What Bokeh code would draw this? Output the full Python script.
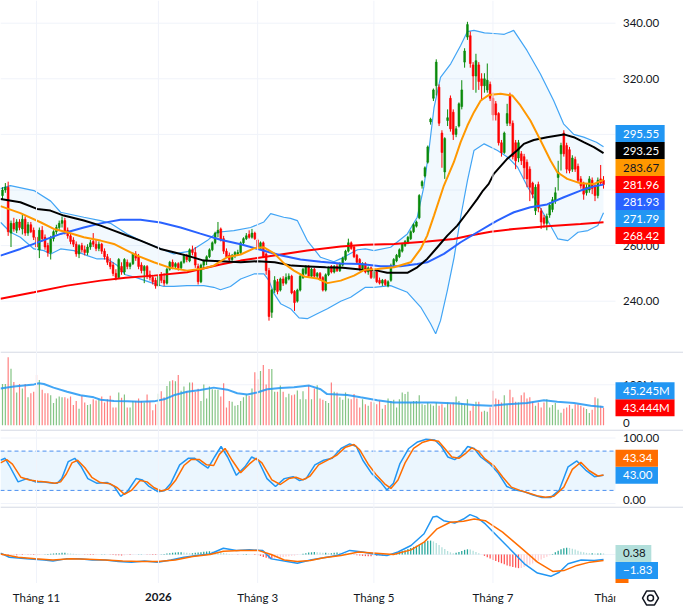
from bokeh.plotting import figure
from bokeh.layouts import column
from bokeh.models import Range1d, Span
from bokeh.embed import file_html
from bokeh.resources import INLINE
from bokeh.core.properties import value

# ---------------- data ----------------
opens = [
278,280,281,264.5,268,265.5,268.5,266,269.5,264.5,
267.5,265.5,263,258.5,265.5,263,260,257.5,262.5,265,
266.5,268,269,265.5,263.5,262,260.5,257,260,258.5,
257.5,259.5,261.5,260.5,259,260.5,258,256,254,253,
250,248.5,252.5,250.5,254,252.5,253.5,257,256,253,
251,252.5,249.5,248.5,247.5,245.5,249.5,247.5,246.5,251.5,
254,252.5,253.5,252,254,256.5,254.5,258.5,257.5,252.5,
247,253,254.5,256,258.5,261,264.5,266,262.5,258,
256.5,255,256.5,257,257.5,261,262.5,264,263,264.5,
262,259,261,257,251,236,244,247,244,248,
246.5,248,249,243.5,240,244,248.5,250,252.5,249,
251.5,249,250,248.5,244,249.5,252.5,250.5,252.5,251,
253,255,258,261,259.5,256.5,255,251.8,253.5,250.5,
252,248.5,250.5,247.5,246.5,247.5,245.5,247.5,253,254.5,
256,258,260,261,262.5,265,267,270,281.5,285,
290,304.5,313,317.5,317,300.5,286.5,305,313,308,
300,303,310,326,335,335.5,325,321,325,320,
317.5,316,
318,313,311,307.5,297,293.5,304,314,304,297,
291.5,293,292,290,287.5,282.5,272.5,282,272.5,270,
268,271,273,276,284.5,293,300.5,296,294.5,287.5,
291,288.5,284,282.5,279,280,283.5,281.5,278,284,
283.5]
highs = [
281,282.5,283,269,270,269.5,269.5,271,270.5,268.5,
268.5,266.5,264,266.5,267,264,261,263.5,265.5,267.5,
269,270.5,270,266.5,264.5,263,261.5,260.5,261,260,
260.5,262,264.5,262,261.5,261,259,257,255.5,254,
251.5,255.5,254,255.5,255,254,257.5,258,257,254,
253,253,251,249.5,248.5,249.5,250.5,250,252,254.5,
255,254,254,254.5,257,257,259,260,259.5,253.5,
253.5,255,256.5,259,261.5,265,268.5,266.5,263.5,259,
257.5,257,258,258.5,261.5,263,264.5,265.5,266,265,
262.5,261.5,261.5,257.5,252,244.5,249,248,248.5,249,
250,250,249.5,244,244.5,249.5,252,253,253,252,
252,250.5,250.5,249,250,252.5,253,253,253.5,254,
256,258.5,262.5,261.5,260,257,255.5,254,254,252.5,
252.5,251,251,248.5,248,248,247.5,253.5,255.5,257,
259,261,262,263.5,265.5,268,269,278.5,283.5,288.5,
296,306,316.5,327,318,301.5,299,309,314,309,
303,311.5,319.5,331,340.5,337,326,329,326,322,
322,325.5,
319,315,312,308,298,301,311,315,305,298,
298,294,293,291,288.5,283,282,283,273.5,271,
271.5,275.5,277.5,281,290.5,297,301.5,297,295.5,292.5,
292,289.5,285,283,282.5,285,284.5,282.5,284.5,289,
285]
lows = [
276.5,279,263.5,259.5,265,264.5,265.5,264,263.5,263.5,
264.5,262,258.5,255.5,261.5,258.5,256,255,261.5,264,
265.5,266.5,264,262.5,260.5,259.5,256,255.5,257.5,256.5,
256.5,258.5,259.5,258,258,257,255,253,251.5,249,
247.5,248,249.5,249.5,251.5,251.5,253,254.5,251.5,250,
246.5,248,247.5,246,244.5,245,246.5,245.5,246,251,
251.5,251.5,251,251.5,253.5,254,254,256.5,252,246,
246.5,251.5,253,255.5,258,260.5,263,261.5,257,255.5,
254,254.5,255.5,256.5,257,260,262,262.5,262.5,262,
258.5,258.5,255.5,249.5,233,234,243,242.5,243.5,245.5,
246,247.5,242.5,236.5,239.5,243.5,248,249.5,248.5,248.5,
248.5,248,247.5,243.5,243.5,249,250,250,250.5,250.5,
252.5,254.5,257.5,258.5,255.5,253.5,251,251,250,249.5,
248,248,246.5,246,245.5,245.5,245,247,252.5,254,
255.5,257.5,259.5,260.5,262,264.5,266.5,269.5,280.5,284.5,
289.5,303.5,312,314,303,288,284,303,301,298,
299,302.5,309,324,334,324,316,315,316,312,
315,315,
312,305,305,296,292,293,303,303,291,287.5,
290,289,284,281,276,277,271,272,266,266.5,
265.5,270,272,275,279.8,287,292,286,286,286.5,
286.5,282.5,280.5,276.5,278,279,278.5,276,277,281.5,
280.5]
closes = [
280,281,265,268,266,268.5,266.5,269.5,264.5,267.5,
265,263,259.5,265.5,262.5,259.5,257.5,262.5,265,266.5,
268,269,265,263.5,261.5,260.5,257,260,258.5,257.5,
259.5,261,260.5,259,260.5,258,256,254,252.5,250,
248.5,255,250.5,255,252.5,253.5,257,255.5,252.5,251,
252.5,249,248.5,247,245.5,249,247.5,246.5,251.5,254,
252.5,253.5,252,254,256.5,255,258.5,257.5,253,247,
253,254.5,256,258.5,261,264.5,265.5,262,258,256,
255,256.5,257.5,257.5,261,262.5,263.5,263,264.5,262.5,
259,261,256,251,234.5,244,247.5,243.5,248,246.5,
248.5,249,243,239.5,244,249,251.5,252.5,249,251.5,
249,250,248,244,249.5,252,250.5,252.5,251,253.5,
255.5,258,261,259,256,254,251.8,253.5,250.5,252,
248.5,250.5,247,246.5,247.5,246,247,252.8,255,256.5,
258.5,260.5,261.5,263,265,267.5,268.5,278,283,288,
295.5,305.5,316,326,304,293.5,298.5,306,302,300,
302,311,316,330,339.5,325.5,321,326.5,319,317.5,
320,319.5,
313,307,307,297,293.5,300.5,307.5,304,292,290.5,
297,290.5,288,284,281,278.5,281,273.5,268.5,268,
270.5,274.5,276.5,279,286.5,296,293,287.5,287,291.5,
287.5,283.5,281.5,278.5,281,284,280.5,278,283.5,282.5,
281.96]
volumes = [
102,102,168,140,107,81,102,91,102,69,
79,83,125,112,88,79,79,74,55,66,
71,69,69,66,71,50,60,41,73,56,
50,52,64,61,63,71,56,64,73,44,
44,81,68,76,44,44,60,60,66,60,
56,76,58,37,52,78,84,69,97,109,
111,109,124,85,96,84,106,106,83,90,
60,101,66,96,89,88,88,71,104,44,
60,58,48,50,60,69,76,73,91,131,
114,134,149,101,139,139,83,83,98,83,
69,78,74,76,86,64,84,64,98,
64,91,99,66,63,60,55,106,83,81,
69,63,81,66,64,77,66,44,64,52,
48,58,56,52,60,41,50,66,60,63,
44,64,81,77,83,56,60,60,74,52,
50,56,52,48,56,48,52,44,
56,52,56,71,60,55,52,64,36,48,
58,58,33,36,33,44,85,66,63,
56,74,52,88,69,58,56,74,81,66,
69,58,48,56,44,56,64,44,50,
55,38,31,41,44,50,41,52,52,48,
44,40,30,38,69,66,48,43.444]

# moving averages / bands, sampled along the bar axis
ma20_at = [-0.7,6.3,13.4,18.1,22.8,28.7,34.6,39.3,43.4,47.5,53.4,59.2,65.1,71,74.5,79.2,84,88.7,92.2,95.8,99.3,102.8,106.4,111,114.6,119.3,124,127.5,132.2,138.1,144,147.5,149.8,152.2,155.7,159.2,161.6,164,166.3,168.7,171.6,175.7,179.8,182.7,186.2,189.8,193.3,195.7,199.2,203.9,208.6,212]
ma20 = [274.2,271.7,268.4,266,264.8,263,261.8,260.6,258.5,256.4,254,252,251,251.8,252.8,255.8,256.8,259,259.4,257.2,253.6,251,248.9,248.2,246.5,247.4,249.2,251.2,251.6,252.2,254,258.8,263.6,270.8,281.6,290,297.2,303.2,308,312.2,314.2,314.6,314,310.4,305,297.8,290.6,286.4,284,282.4,282.2,283.67]
ma50_at = [-0.7,6.3,12.2,16.9,21.6,28.7,34.6,39.3,43.4,48.7,55.7,60.4,65.1,71,76.9,84,90,96,102,108,114,120,126.3,132.2,135.7,142.8,146.3,149.8,153.4,156.9,160.4,164,167.5,169.5,171.5,173.3,178,181.5,183.9,187.4,192.1,198,201.5,205,208.6,212]
ma50 = [276.8,275.6,273.2,272.6,270.8,269,267.2,265.4,263.8,261.8,258.8,257.6,256.4,254.6,254.4,254,254.4,254,252.8,252.5,252.2,252,251.4,251,250.2,250.2,252.2,255.2,259.4,263.6,267.2,272,276.8,279.8,282.2,285.8,291.2,294.2,296.6,298,299,300,299,297.2,295.4,293.25]
ma100_at = [-0.7,6.3,13.4,20.5,28.7,34.6,41.6,48.7,55.7,62.8,69.8,76.9,84,91,98,105.1,112.2,119.2,126.3,133.4,140.4,146.3,149.8,155.7,161.6,167.5,172.2,174.5,180.4,186.2,192.1,198,203.9,208.6,212]
ma100 = [256.4,258.8,261.5,264.2,266.5,268,269.3,269.3,268.3,266.5,264.3,262.1,260.5,258.5,256.5,255,254.2,253.6,253.4,252.6,252.6,253.4,254,257,261.2,264.8,267.6,269,272,273.8,274.8,277.4,279.8,281.3,281.93]
ma200_at = [-0.7,11.1,22.8,34.6,43.4,53.4,65.1,76.9,84,95.8,107.5,119.3,128,138.1,149.8,159.2,165,172.2,180.4,192.1,203.9,212]
ma200 = [240.9,243.2,245.6,247.4,248.4,249.2,250.4,253.2,254.6,256.4,258.2,259.7,260.3,260.6,261.5,262.4,263.6,265,266,267,267.8,268.42]
bb_up_at = [-0.7,2.8,11.1,17,20.5,28.7,34.6,38.1,44,48.7,54.6,60.4,66.3,72.2,75.7,81.6,87.5,92.2,94.6,99.2,101.6,104,107.5,112.2,116.9,119.3,125.2,128,131,136.9,142.8,146.3,148.6,150.4,152.2,154.5,158.1,161.6,164,166.3,170,174.5,177,180.3,185,189.7,194.4,197.9,201.5,205,209.5,212]
bb_up = [280.5,281.6,279.8,276,272,270.2,269,268,264.2,261.8,259.4,257,258,261.8,264.8,265.4,266.5,268.5,271.5,270.2,269.8,269,261.8,255.8,254.2,255.3,258.5,258.8,258.2,259.4,264.2,270.2,281,294.2,309.5,320.5,325.4,332,337,337.4,336.5,336.2,336,337.4,330.2,321.8,312.2,303.8,300,299,297.2,295.55]
bb_lo_at = [-0.7,2.8,6.3,11.1,14.6,17,20.5,25.2,29.9,33.4,37,40.5,43.4,47.5,53.4,56.9,60.4,65.1,71,74.5,76.9,80.4,84,88.7,92.2,94,95.8,98.1,101.6,104.6,107.5,111,114.6,119.3,122.8,128,131,136.9,142.8,147.5,151,152.8,154.5,156.9,159.3,161.6,164,166.3,169.9,174.6,178.2,181.7,185.3,188.8,192.3,195.9,199.4,203,206.5,210,212]
bb_lo = [268.4,264.8,263,258.8,258.2,257,258.8,258.2,256.4,255.2,255.2,252.8,249.5,248.4,246.3,245.3,245.3,245.6,245.6,245,244.1,245.3,248,249.8,249.8,247.4,242.7,239.1,237.3,234,233.7,235.5,237.3,240,241.4,245,245,245.6,243.2,237.9,231.9,228.3,233,243.8,255.8,270.2,283.4,294.2,296.6,294.2,291.8,288.2,281,275,269,262.4,261.8,264.8,265.4,267.2,271.79]

vol_ma_at = [-0.7,4,11.1,12.8,14.6,18,22.8,27.5,32.2,34.6,39.3,44,48.7,53.4,57,60.4,65.1,69.8,74.5,79.3,82.8,86.3,89.8,93.4,98,102.8,108.2,112.2,114.5,121.6,126.3,132.2,138,144,152.2,160.4,166.3,172.2,178,185,191,195.7,201.6,207.5,212]
vol_ma = [91,96,101,104,102,93,83,74,69,63,60,59.5,58,59,64,74,83,87,93,88,79,76,81,89,92,94,98,89,77,75,69,62,56,56,56,54,50,48,52,55,62,58,55,48,45.245]

stoch_k_at = [-0.7,0.9,2.4,5.5,8.6,11.6,14.7,17.8,19.3,20.9,23.2,25.5,27.8,30.1,33.2,37,39.4,41.7,44,47.1,49.4,51.7,54.8,57.1,59.4,62.5,65.5,67.8,70.2,72.5,74.8,77.1,79.4,82.5,85.5,87.9,90.2,93.3,96.3,99.4,102.5,104.8,107.1,110.2,113.3,116.3,119.4,122.5,124.8,127.1,130.2,133.3,135.6,137.9,140.2,143.3,146.4,149.4,152.5,154.8,157.1,159.5,161.8,164.1,166.4,168.7,171.8,174.9,177.9,181,184.1,187.2,190.3,193.3,196.4,199.5,202.6,205.7,208.8,212]
stoch_k = [66,69,58,33,38,33,33,31,31,38,64,69,56,38,31,32,26,11,18,38,36,26,18,19.5,31,59,69,69,61,54,71,87,71,43,56,71,66,38,26,38,41,35,38,59,66,69,84,91,87,66,46,33,20.5,31,61,84,94,98,97,87,71,67,74,87,84,71,61,46,26,20.5,18,13,9,9,20.5,56,65,51,41,43.0]
stoch_d_at = [-0.7,1.5,3.5,6.5,9.5,12.5,15.5,18.5,20.5,22.5,24.5,26.5,29,31.5,34.5,38,40.5,43,45.5,48.5,51,53.5,56,58.5,61,64,66.5,69.5,72,74.5,76.5,78.5,81,84,87,89.5,91.5,95,98,101,103.5,106,108.5,111.5,115,118,121,124,126,129,132,134.8,137,139.5,142,145,148,151,153.8,156,158.5,161,163.5,165.5,167.8,170.2,173.5,176.5,179.5,182.5,185.5,188.5,191.5,194.5,198,201,204,207,210,212]
stoch_d = [62,67,60,40,36,34,33,31,33,45,62,66,55,40,32,30,24,14,20,35,33,24,19,22,35,58,67,67,59,58,75,84,66,47,60,69,62,36,29,38,40,36,42,59,67,74,86,90,82,60,43,30,23,36,62,84,93,97,95,84,71,69,77,85,80,68,57,40,25,20,16,12,9.5,11,25,52,63,50,42,43.34]

macd_at = [-0.7,2.4,8.6,14.7,17.8,22.4,27,31.7,36.3,40.9,45.5,50.1,54.8,59.4,64,68.6,73.2,77.9,82.5,87.1,91.7,94.8,99.4,104,108.6,113.3,117.9,122.5,127.1,131.8,135.6,139.5,144.1,148.7,151.8,153.3,155.6,159.5,162.6,164.9,167.2,170.3,174.9,179.5,184.1,188.7,193.4,196.4,199.5,204.1,208.7,212]
macd = [0.5,-1,-1.6,-2,-2.4,-1.6,-1.6,-2,-2,-2.6,-2.8,-2.4,-2.8,-2,-1,-0.4,0.2,2.3,1.5,1.7,1.5,-1.6,-2.4,-3.2,-2,-1.2,-0.4,1.5,0.9,0,-0.4,0.9,3.3,7.6,13.7,14,12.4,11.5,13,14.6,13.7,11.2,6.3,1.5,-3.4,-6.8,-8,-6.5,-3.4,-2,-2.2,-1.83]
signal_at = [-0.7,5.5,11.6,17.8,24,30.1,36.3,42.4,48.6,54.8,60.9,67.1,73.2,77.9,84,90.2,94.8,99.4,104,108.6,113.3,119.4,125.6,131.8,137.9,144.1,148.7,153.3,157.9,162.6,166.4,170.3,176.4,182.6,188.7,194.1,198,202.6,207.2,212]
signal = [0.2,-1,-1.6,-2,-1.6,-1.7,-2,-2.4,-2.6,-2.6,-2,-0.7,0,1.2,1.5,1.5,0,-2,-2.6,-2.2,-1.2,-0.4,0.9,0.5,0,1.7,4.5,9.4,11.8,12.2,13,12.4,8.2,2.7,-2.8,-6.2,-5.9,-4,-2.8,-2.21]
macd_hist = [
-0.3,-0.4,-0.5,-0.4,-0.3,-0.3,-0.2,-0.2,-0.1,-0.1,
-0.1,-0.2,-0.3,-0.2,0.0,0.1,0.2,0.3,0.4,0.5,
0.5,0.6,0.6,0.5,0.4,0.3,0.2,0.1,0.0,-0.1,
-0.1,-0.2,-0.2,-0.1,0.0,0.1,0.1,0.0,-0.1,-0.2,
-0.3,-0.3,-0.4,-0.3,-0.2,-0.2,-0.1,0.0,0.1,0.1,
0.0,-0.1,-0.1,-0.2,-0.2,-0.1,0.1,0.2,0.4,0.5,
0.6,0.7,0.8,0.8,0.7,0.6,0.5,0.5,0.6,0.7,
0.8,1.0,1.1,1.2,1.1,1.0,0.9,0.8,0.6,0.4,
0.2,0.1,0.0,-0.1,0.0,0.1,0.2,0.1,0.0,-0.2,
-0.3,-0.5,-0.9,-1.2,-1.5,-1.6,-1.5,-1.3,-1.1,-0.9,
-0.7,-0.6,-0.5,-0.4,-0.2,0.0,0.3,0.5,0.7,0.8,
0.9,0.8,0.7,0.6,0.6,0.5,0.5,0.6,0.7,0.6,
0.5,0.4,0.3,0.1,-0.1,-0.3,-0.4,-0.5,-0.6,-0.6,
-0.6,-0.5,-0.5,-0.4,-0.4,-0.3,-0.2,0.0,0.3,0.6,
0.9,1.3,1.6,2.0,2.4,2.8,3.2,3.6,4.1,4.6,
5.0,5.1,4.8,4.2,3.5,2.7,2.0,1.3,0.8,0.5,
0.6,0.9,1.3,1.7,1.9,1.8,1.4,0.9,0.5,0.0,
-0.5,-1.0,-1.5,-2.0,-2.4,-2.8,-3.2,-3.6,-4.0,-4.3,
-4.6,-4.8,-5.0,-4.9,-4.6,-4.2,-3.8,-3.3,-2.8,-2.3,
-1.8,-1.3,-0.8,-0.3,0.2,0.8,1.4,1.9,2.3,2.5,
2.4,2.1,1.8,1.4,1.0,0.8,0.6,0.5,0.5,0.4,
0.4,0.4,0.38]

month_ticks = [12, 55, 90, 131, 173, 216]
month_labels = ["Tháng 11", "2026", "Tháng 3", "Tháng 5", "Tháng 7", "Tháng 9"]
price_ticks = [240, 260, 280, 300, 320, 340]

# ---------------- layout helpers ----------------
W = 683
X0, DX = 2.0, 2.835          # px of bar 0, px per bar


def bx(px):
    return (px - X0) / DX


XS, XE = bx(0), bx(W)
PLOT_END = bx(615)
TXT_PX = 622.5
TXT_X = bx(TXT_PX)
TAG_L = bx(615)
TAG_H = 17.0
FS = "11.5px"
FONT = value("Lato")
TEXT_C = "#131722"
GRID = "#f0f3fa"
SEP = "#e0e3eb"
UP, DN = "#0a8a0a", "#ff0000"
CHAR_W = {".": 2.8, "M": 9.9, "\u2212": 6.7}


def text_w(s):
    return sum(CHAR_W.get(c, 6.67) for c in s)


def panel(top, bottom, ppu, yref, vref):
    lo = vref - (bottom - yref) / ppu
    hi = vref + (yref - top) / ppu
    p = figure(width=W, height=int(round(bottom - top)),
               x_range=Range1d(XS, XE), y_range=Range1d(lo, hi),
               output_backend="svg", toolbar_location=None,
               x_axis_location=None, y_axis_location=None,
               min_border=0, min_border_left=0, min_border_right=0,
               min_border_top=0, min_border_bottom=0,
               outline_line_color=None, background_fill_color="white",
               border_fill_color="white")
    p.grid.visible = False
    return p, lo, hi


def vgrid(p):
    for t in month_ticks[:-1]:
        p.add_layout(Span(location=t, dimension="height", line_color=GRID, line_width=1))


def hgrid(p, vals):
    p.segment(x0=[XS] * len(vals), x1=[PLOT_END] * len(vals), y0=vals, y1=vals,
              line_color=GRID, line_width=1)


def sep(p, hi, ppu):
    p.segment(x0=[XS], x1=[XE], y0=[hi - 0.6 / ppu], y1=[hi - 0.6 / ppu], line_color=SEP, line_width=1.6)


def axis_text(p, ys, texts, offsets=None):
    offs = offsets or [0] * len(ys)
    for yv, t, o in zip(ys, texts, offs):
        p.text(x=[TXT_X], y=[yv], text=[t], text_font=FONT, text_font_size=FS,
               text_color=TEXT_C, text_align="left", text_baseline="middle", y_offset=o)


def tags(p, main, others, ppu):
    h = TAG_H / ppu
    placed = [(main[0], main)]
    prev = main[0]
    for o in sorted([o for o in others if o[0] >= main[0]], key=lambda o: o[0]):
        pos = max(o[0], prev + h)
        placed.append((pos, o))
        prev = pos
    prev = main[0]
    for o in sorted([o for o in others if o[0] < main[0]], key=lambda o: -o[0]):
        pos = min(o[0], prev - h)
        placed.append((pos, o))
        prev = pos
    for pos, o in placed:
        right = bx(TXT_PX + text_w(o[3]) + 5.5)
        p.quad(left=[TAG_L], right=[right], bottom=[pos - h / 2], top=[pos + h / 2],
               fill_color=o[1], line_color=None)
        p.text(x=[TXT_X], y=[pos], text=[o[3]], text_font=FONT, text_font_size=FS,
               text_color=o[2], text_align="left", text_baseline="middle")


def fmt(v, d=2):
    s = f"{abs(v):.{d}f}"
    return ("\u2212" + s) if v < 0 else s


n = min(len(opens), len(highs), len(lows), len(closes), len(volumes), len(macd_hist))
idx = list(range(n))
col = [UP if closes[k] >= opens[k] else DN for k in idx]

# ---------------- main price pane ----------------
PPU_M = 2.78
pm, lo_m, hi_m = panel(0, 351, PPU_M, 22.7, 340)
vgrid(pm)
hgrid(pm, price_ticks)
pm.patch(x=bb_up_at + bb_lo_at[::-1], y=bb_up + bb_lo[::-1], fill_color="#2196f3",
         fill_alpha=0.06, line_color=None)
pm.line(bb_up_at, bb_up, line_color="#42a5f5", line_width=1.2)
pm.line(bb_lo_at, bb_lo, line_color="#42a5f5", line_width=1.2)
pm.segment(x0=idx, x1=idx, y0=lows[:n], y1=highs[:n], line_color=col, line_width=1)
pm.vbar(x=idx, width=0.62, top=[max(opens[k], closes[k]) for k in idx],
        bottom=[min(opens[k], closes[k]) for k in idx], fill_color=col, line_color=col, line_width=0.6)
pm.line(ma200_at, ma200, line_color="#ff0000", line_width=2)
pm.line(ma100_at, ma100, line_color="#2962ff", line_width=2)
pm.line(ma50_at, ma50, line_color="#000000", line_width=2)
pm.line(ma20_at, ma20, line_color="#ff9800", line_width=2)
axis_text(pm, price_ticks, [f"{v:.2f}" for v in price_ticks])
tags(pm, (closes[n - 1], DN, "white", fmt(closes[n - 1])),
     [(bb_up[-1], "#2196f3", "white", fmt(bb_up[-1])),
      (ma50[-1], "#000000", "white", fmt(ma50[-1])),
      (ma20[-1], "#ff9800", TEXT_C, fmt(ma20[-1])),
      (ma100[-1], "#2962ff", "white", fmt(ma100[-1])),
      (bb_lo[-1], "#2196f3", "white", fmt(bb_lo[-1])),
      (ma200[-1], "#ff0000", "white", fmt(ma200[-1]))], PPU_M)

# ---------------- volume pane ----------------
PPU_V = 0.404
pv, lo_v, hi_v = panel(351, 429, PPU_V, 424.7, 0)
vgrid(pv)
hgrid(pv, [100])
pv.vbar(x=idx, width=0.42, top=volumes[:n], bottom=0, fill_color=col, fill_alpha=0.5, line_color=None)
pv.line(vol_ma_at, vol_ma, line_color="#2196f3", line_width=2, line_alpha=0.85)
axis_text(pv, [100, 0], ["100M", "0"], offsets=[0, -2.5])
tags(pv, (volumes[n - 1], DN, "white", f"{volumes[n - 1]:.3f}M"),
     [(vol_ma[-1], "#2196f3", "white", f"{vol_ma[-1]:.3f}M")], PPU_V)
sep(pv, hi_v, PPU_V)

# ---------------- stochastic pane ----------------
PPU_S = 0.655
ps, lo_s, hi_s = panel(429, 506, PPU_S, 503, 0)
vgrid(ps)
hgrid(ps, [0, 100])
ps.quad(left=[XS], right=[PLOT_END], bottom=[20], top=[80], fill_color="#2196f3", fill_alpha=0.09, line_color=None)
ps.segment(x0=[XS, XS], x1=[PLOT_END, PLOT_END], y0=[20, 80], y1=[20, 80],
           line_color="#4a8ff0", line_width=1, line_dash="4 3")
ps.line(stoch_k_at, stoch_k, line_color="#2196f3", line_width=1.5)
ps.line(stoch_d_at, stoch_d, line_color="#ff6d00", line_width=1.5)
axis_text(ps, [100, 0], ["100.00", "0.00"], offsets=[0, -3.5])
tags(ps, (stoch_k[-1], "#2196f3", "white", fmt(stoch_k[-1])),
     [(stoch_d[-1], "#ff6d00", "white", fmt(stoch_d[-1]))], PPU_S)
sep(ps, hi_s, PPU_S)

# ---------------- MACD pane ----------------
PPU_C = 2.73
pc, lo_c, hi_c = panel(506, 583, PPU_C, 554, 0)
vgrid(pc)
hgrid(pc, [0])
hcol = []
for k in idx:
    hv = macd_hist[k]
    hp = macd_hist[k - 1] if k else hv
    if hv >= 0:
        hcol.append("#26a69a" if hv >= hp else "#b2dfdb")
    else:
        hcol.append("#ffcdd2" if hv > hp else "#ff5252")
pc.vbar(x=idx, width=0.45, top=macd_hist[:n], bottom=0, fill_color=hcol, line_color=None)
pc.line(macd_at, macd, line_color="#2196f3", line_width=1.5)
pc.line(signal_at, signal, line_color="#ff6d00", line_width=1.5)
tags(pc, (macd_hist[n - 1], "#b2dfdb", TEXT_C, fmt(macd_hist[n - 1])),
     [(macd[-1], "#2196f3", "white", fmt(macd[-1])),
      (signal[-1], "#ff6d00", "#ff6d00", "")], PPU_C)
sep(pc, hi_c, PPU_C)

# ---------------- time axis ----------------
pt, lo_x, hi_x = panel(583, 609, 1.0, 609, 0)
LAB_Y = 12.5
for t, lab in zip(month_ticks, month_labels):
    pt.text(x=[t], y=[LAB_Y], text=[lab], text_font=FONT, text_font_size=FS,
            text_color=TEXT_C, text_align="center", text_baseline="middle",
            text_font_style="bold" if lab.isdigit() else "normal")
pt.quad(left=[PLOT_END], right=[XE], bottom=[lo_x], top=[hi_x], fill_color="white", line_color=None)
pt.scatter(x=[bx(650)], y=[11.5], marker="hex", size=16, fill_color=None, line_color="#131722", line_width=1.5)
pt.scatter(x=[bx(650)], y=[11.5], marker="circle", size=6, fill_color=None, line_color="#131722", line_width=1.5)

layout = column(pm, pv, ps, pc, pt, spacing=0)
open("out.html", "w").write(file_html(layout, INLINE))
